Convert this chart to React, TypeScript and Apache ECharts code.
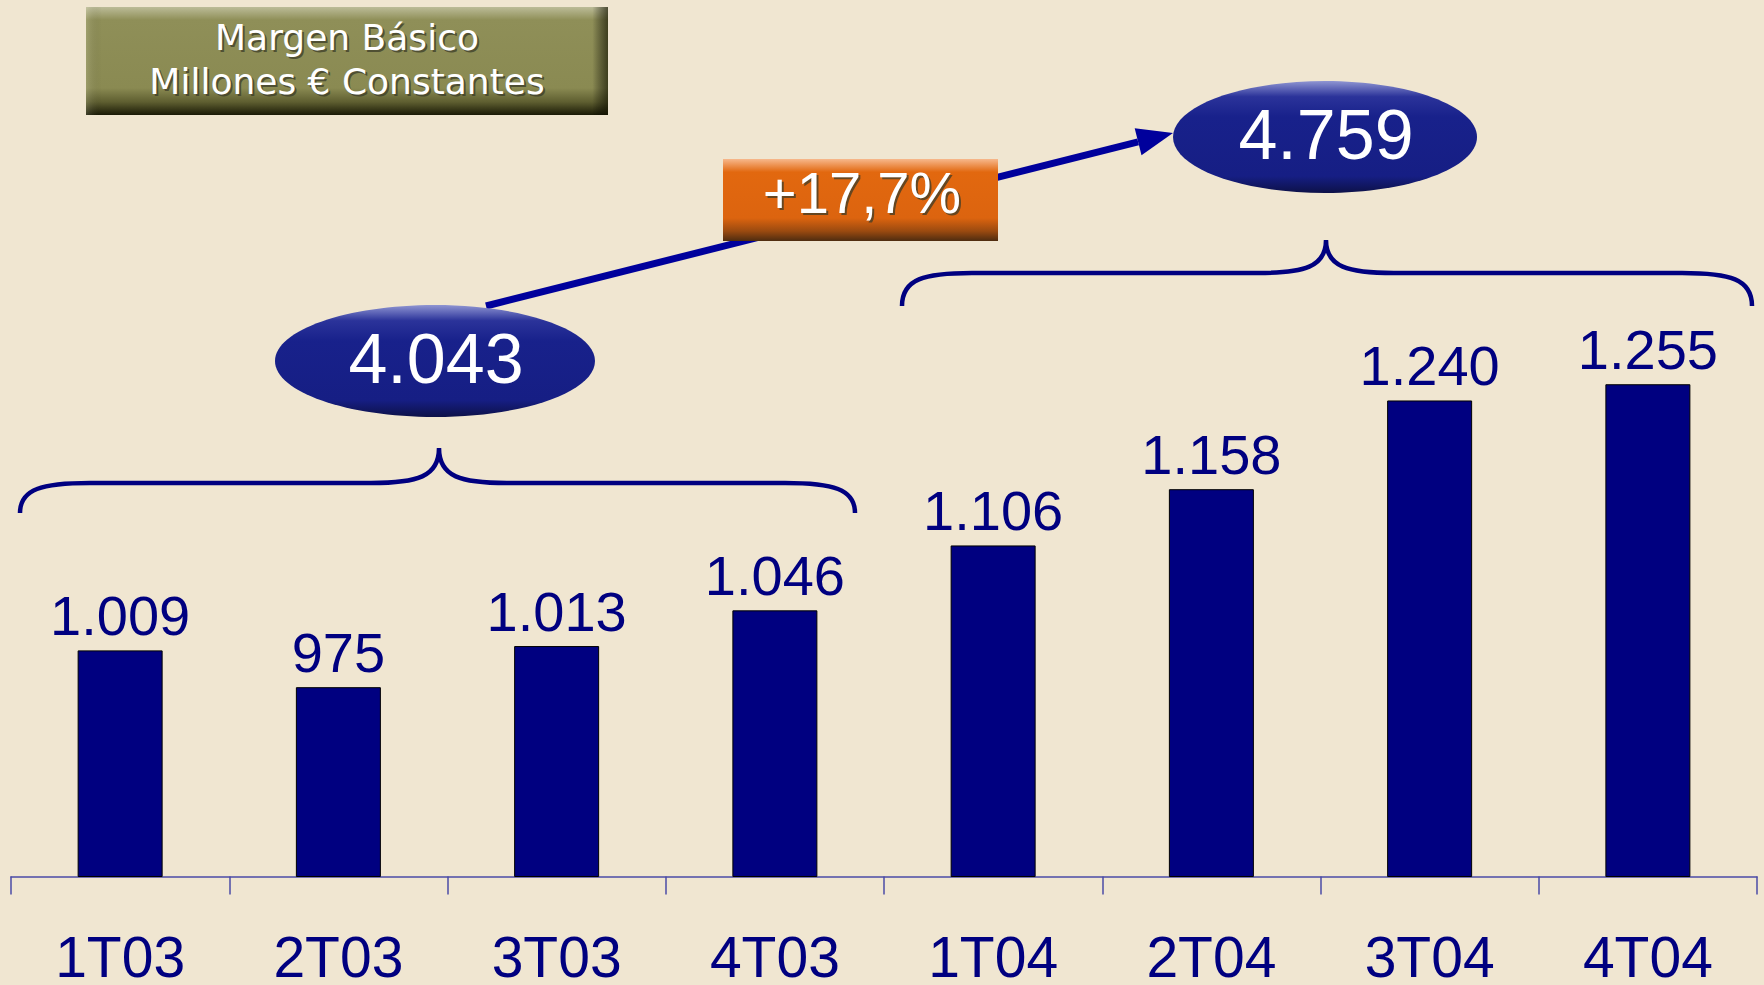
import React, { useEffect, useRef } from "react";
import * as echarts from "echarts";

const categories = ["1T03", "2T03", "3T03", "4T03", "1T04", "2T04", "3T04", "4T04"];
const values = [1009, 975, 1013, 1046, 1106, 1158, 1240, 1255];
const titleLines = ["Margen Básico", "Millones € Constantes"];
const groups2003 = [0, 1, 2, 3];
const groups2004 = [4, 5, 6, 7];

const fmt = (v: number) => String(v).replace(/\B(?=(\d{3})+(?!\d))/g, ".");

const NAVY = "#000080";
const NUM_FONT = '"Liberation Sans", Arial, sans-serif';

function bracePath(x0: number, x1: number, xm: number, yE: number, yH: number, yT: number) {
  const a = 70;
  const b = 68;
  return (
    `M${x0},${yE} C${x0},${yH + 6} ${x0 + 22},${yH} ${x0 + a},${yH} ` +
    `L${xm - b},${yH} C${xm - 22},${yH} ${xm},${yH - 6} ${xm},${yT} ` +
    `C${xm},${yH - 6} ${xm + 22},${yH} ${xm + b},${yH} ` +
    `L${x1 - a},${yH} C${x1 - 22},${yH} ${x1},${yH + 6} ${x1},${yE}`
  );
}

let registered = false;
function registerShapes() {
  if (registered) return;
  registered = true;
  echarts.graphic.registerShape("braceL", echarts.graphic.extendPath(bracePath(20, 855, 439, 513, 483, 448), {}));
  echarts.graphic.registerShape("braceR", echarts.graphic.extendPath(bracePath(902, 1752, 1326, 306, 273, 240), {}));
}

function shadowText(x: number, y: number, text: string, fontSize: number, family: string, lineHeight?: number) {
  const base: any = {
    text,
    fontSize,
    fontFamily: family,
    align: "center",
    verticalAlign: "middle",
  };
  if (lineHeight) base.lineHeight = lineHeight;
  return [
    { type: "text", x: x + 2, y: y + 2, z: 20, style: { ...base, fill: "rgba(60,60,40,0.75)" } },
    { type: "text", x, y, z: 21, style: { ...base, fill: "#ffffff" } },
  ];
}

export default function App() {
  const ref = useRef<HTMLDivElement>(null);

  useEffect(() => {
    if (!ref.current) return;
    registerShapes();
    const chart = echarts.init(ref.current, undefined, { renderer: "svg" });

    const total03 = groups2003.reduce((s, i) => s + values[i], 0);
    const total04 = groups2004.reduce((s, i) => s + values[i], 0);
    const growth = "+" + ((total04 / total03 - 1) * 100).toFixed(1).replace(".", ",") + "%";

    // arrow geometry
    const sx = 486, sy = 306, tx = 1173, ty = 133;
    const dx = tx - sx, dy = ty - sy;
    const len = Math.sqrt(dx * dx + dy * dy);
    const ux = dx / len, uy = dy / len;
    const hl = 36, hw = 14;
    const bx = tx - hl * ux, by = ty - hl * uy;
    const nx = -uy, ny = ux;

    const ellipseFill = new echarts.graphic.LinearGradient(0, 0, 0, 1, [
      { offset: 0, color: "#8f95d2" },
      { offset: 0.14, color: "#2b339a" },
      { offset: 0.32, color: "#18218b" },
      { offset: 0.85, color: "#161e84" },
      { offset: 1, color: "#0d1148" },
    ]);

    const option: any = {
      animation: false,
      backgroundColor: "#F0E6D1",
      grid: { left: 11, right: 7, top: 11, bottom: 102, containLabel: false },
      xAxis: {
        type: "category",
        data: categories,
        axisLine: { show: true, lineStyle: { color: "#4b4ba6", width: 1.5 } },
        axisTick: { show: true, length: 18, lineStyle: { color: "#4b4ba6", width: 1.5 } },
        axisLabel: { color: NAVY, fontSize: 57, lineHeight: 40, fontFamily: NUM_FONT, margin: 60 },
      },
      yAxis: { type: "value", min: 800, max: 1600, show: false, splitLine: { show: false } },
      series: [
        {
          type: "bar",
          data: values,
          barWidth: 85,
          itemStyle: { color: NAVY, borderColor: "#000000", borderWidth: 1 },
          label: {
            show: true,
            position: "top",
            distance: 7,
            color: NAVY,
            fontSize: 56,
            fontFamily: NUM_FONT,
            formatter: (p: any) => fmt(p.value),
          },
        },
      ],
      graphic: {
        elements: [
          // title box
          {
            type: "rect",
            z: 10,
            shape: { x: 86, y: 7, width: 522, height: 108 },
            style: {
              fill: new echarts.graphic.LinearGradient(0, 0, 0, 1, [
                { offset: 0, color: "#bcbc98" },
                { offset: 0.12, color: "#8f8f58" },
                { offset: 0.75, color: "#8a8a52" },
                { offset: 0.88, color: "#5e5e30" },
                { offset: 1, color: "#1a1a06" },
              ]),
            },
          },
          {
            type: "rect",
            z: 11,
            shape: { x: 86, y: 7, width: 522, height: 108 },
            style: {
              fill: new echarts.graphic.LinearGradient(0, 0, 1, 0, [
                { offset: 0, color: "rgba(255,255,230,0.15)" },
                { offset: 0.03, color: "rgba(0,0,0,0)" },
                { offset: 0.97, color: "rgba(0,0,0,0)" },
                { offset: 1, color: "rgba(20,20,0,0.65)" },
              ]),
            },
          },
          ...shadowText(347, 59, titleLines.join("\n"), 36, '"DejaVu Sans", sans-serif', 44),

          // braces
          { type: "braceL", z: 5, style: { fill: "none", stroke: NAVY, lineWidth: 4.5 } },
          { type: "braceR", z: 5, style: { fill: "none", stroke: NAVY, lineWidth: 4.5 } },

          // arrow
          {
            type: "line",
            z: 6,
            shape: { x1: sx, y1: sy, x2: bx, y2: by },
            style: { stroke: "#00009c", lineWidth: 7 },
          },
          {
            type: "polygon",
            z: 6,
            shape: {
              points: [
                [tx, ty],
                [bx + hw * nx, by + hw * ny],
                [bx - hw * nx, by - hw * ny],
              ],
            },
            style: { fill: "#00009c" },
          },

          // ellipses
          {
            type: "ellipse",
            z: 8,
            shape: { cx: 435, cy: 361, rx: 160, ry: 56 },
            style: { fill: ellipseFill },
          },
          {
            type: "ellipse",
            z: 8,
            shape: { cx: 1325, cy: 137, rx: 152, ry: 56 },
            style: { fill: ellipseFill },
          },
          {
            type: "text",
            x: 436,
            y: 359,
            z: 22,
            style: { text: fmt(total03), fontSize: 70, fontFamily: NUM_FONT, fill: "#ffffff", align: "center", verticalAlign: "middle" },
          },
          {
            type: "text",
            x: 1326,
            y: 135,
            z: 22,
            style: { text: fmt(total04), fontSize: 70, fontFamily: NUM_FONT, fill: "#ffffff", align: "center", verticalAlign: "middle" },
          },

          // growth box
          {
            type: "rect",
            z: 12,
            shape: { x: 723, y: 159, width: 275, height: 82 },
            style: {
              fill: new echarts.graphic.LinearGradient(0, 0, 0, 1, [
                { offset: 0, color: "#f7b88c" },
                { offset: 0.16, color: "#e2680f" },
                { offset: 0.72, color: "#dc640f" },
                { offset: 0.88, color: "#9a4a10" },
                { offset: 1, color: "#4e2c10" },
              ]),
            },
          },
          ...shadowText(862, 192, growth, 58, NUM_FONT),
        ],
      },
    };

    chart.setOption(option);
    return () => chart.dispose();
  }, []);

  return (
    <div
      ref={ref}
      style={{ position: "absolute", left: 0, top: 0, width: 1764, height: 985 }}
    />
  );
}
